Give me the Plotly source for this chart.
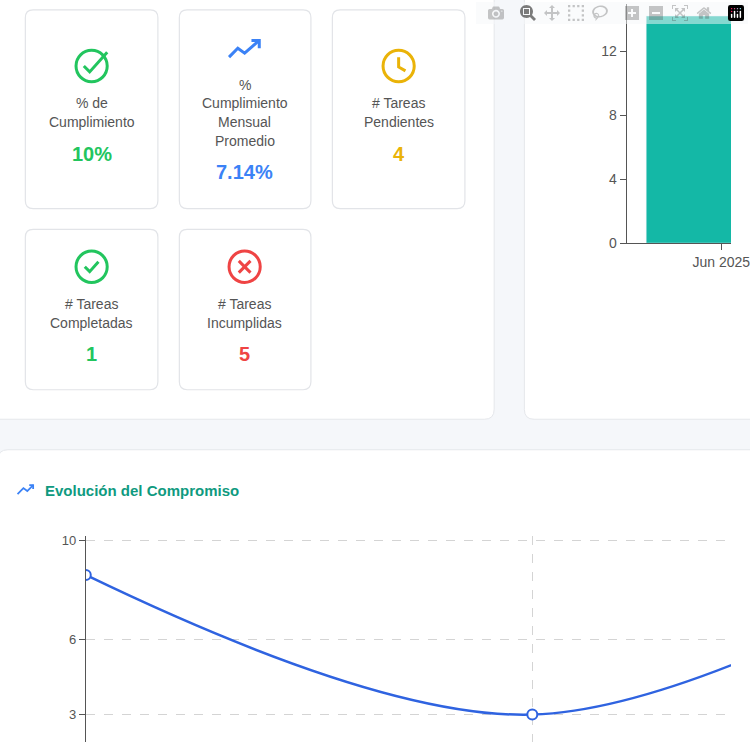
import plotly.graph_objects as go

bar_cats = ["Jun 2025"]
bar_vals = [14.2]
line_cats = ["Abr", "May", "Jun"]
line_vals = [8.6, 3.0, 9.8]
avg_val = 7.14

W = H = 750
def X(x): return x / W
def Y(y): return 1 - y / H

def rrect(x0, y0, x1, y1, r):
    a0, b0, a1, b1 = X(x0), Y(y1), X(x1), Y(y0)
    rx, ry = r / W, r / H
    return (f"M{a0+rx},{b0} L{a1-rx},{b0} Q{a1},{b0} {a1},{b0+ry} L{a1},{b1-ry} Q{a1},{b1} {a1-rx},{b1} "
            f"L{a0+rx},{b1} Q{a0},{b1} {a0},{b1-ry} L{a0},{b0+ry} Q{a0},{b0} {a0+rx},{b0} Z")

fig = go.Figure()
fig.add_trace(go.Bar(x=bar_cats, y=bar_vals, marker_color="#14b8a6", xaxis="x", yaxis="y", width=0.8))
fig.add_trace(go.Scatter(x=line_cats, y=line_vals, mode="lines+markers", xaxis="x2", yaxis="y2",
                         line=dict(color="#2f63e0", width=2.5, shape="spline"),
                         marker=dict(size=10, color="white", line=dict(color="#2f63e0", width=2))))
fig.add_trace(go.Scatter(x=[-1, 3], y=[avg_val, avg_val], mode="lines", xaxis="x2", yaxis="y2",
                         line=dict(color="#22c55e", width=1.2, dash="dot")))

shapes = []
P = dict(xref="paper", yref="paper")
shapes.append(dict(type="path", path=rrect(-20, -20, 507, 422, 10), fillcolor="white", line=dict(color="#e5e7eb", width=1), layer="below", **P))
shapes.append(dict(type="path", path=rrect(538, -20, 780, 422, 10), fillcolor="white", line=dict(color="#e5e7eb", width=1), layer="below", **P))
shapes.append(dict(type="path", path=rrect(-2, 453, 780, 780, 10), fillcolor="white", line=dict(color="#e5e7eb", width=1), layer="below", **P))
cards = [(26, 6, 162, 208), (184, 6, 319, 208), (341, 6, 477, 208), (26, 229, 162, 392), (184, 229, 319, 392)]
for c in cards:
    shapes.append(dict(type="path", path=rrect(*c, 8), fillcolor="white", line=dict(color="#e2e4e8", width=1.2), layer="below", **P))

def circ(cx, cy, r, col):
    shapes.append(dict(type="circle", x0=X(cx-r), x1=X(cx+r), y0=Y(cy+r), y1=Y(cy-r), line=dict(color=col, width=3), **P))
def poly(pts, col, w=3):
    p = "M" + " L".join(f"{X(a)},{Y(b)}" for a, b in pts)
    shapes.append(dict(type="path", path=p, line=dict(color=col, width=w), **P))

G, B, A, R = "#22c55e", "#3b82f6", "#eab308", "#ef4444"
circ(94, 63, 16, G); poly([(86, 63), (92, 69), (110, 49)], G)
poly([(235, 54), (244, 45), (251, 50), (266, 37)], B); poly([(258, 37), (266, 37), (266, 45)], B)
circ(409, 63, 16, A); poly([(409, 54), (409, 64), (416, 68)], A)
circ(94, 267, 16, G); poly([(87, 267), (92, 272), (101, 262)], G)
circ(251, 267, 16, R); poly([(245, 261), (257, 273)], R); poly([(257, 261), (245, 273)], R)
poly([(18, 498), (24, 492), (28, 495), (34, 489)], B, 1.8); poly([(30, 489), (34, 489), (34, 493)], B, 1.8)

ann = []
def t(x, y, s, col="#555", size=14, bold=False):
    ann.append(dict(x=X(x), y=Y(y), xref="paper", yref="paper", text=f"<b>{s}</b>" if bold else s, showarrow=False,
                    font=dict(color=col, size=size, family="Liberation Sans, Arial"), xanchor="center", yanchor="middle"))
t(94, 101, "% de"); t(94, 120, "Cumplimiento"); t(94, 152, "10%", G, 20, True)
t(251, 82, "%"); t(251, 101, "Cumplimiento"); t(251, 120, "Mensual"); t(251, 139, "Promedio"); t(251, 171, "7.14%", B, 20, True)
t(409, 101, "# Tareas"); t(409, 120, "Pendientes"); t(409, 152, "4", A, 20, True)
t(94, 305, "# Tareas"); t(94, 324, "Completadas"); t(94, 356, "1", G, 20, True)
t(251, 305, "# Tareas"); t(251, 324, "Incumplidas"); t(251, 356, "5", R, 20, True)
ann.append(dict(x=X(44), y=Y(494), xref="paper", yref="paper", text="<b>Evolución del Compromiso</b>", showarrow=False,
                font=dict(color="#0f9a80", size=15, family="Liberation Sans, Arial"), xanchor="left", yanchor="middle"))

fig.update_layout(
    width=W, height=H, margin=dict(l=0, r=0, t=0, b=0), paper_bgcolor="#f5f7fa", plot_bgcolor="rgba(0,0,0,0)",
    showlegend=False, shapes=shapes, annotations=ann, font=dict(family="Liberation Sans, Arial", color="#555", size=14),
    xaxis=dict(domain=[X(643), 1], range=[-0.504, 0.052], showline=True, linecolor="#555", ticks="outside", ticklen=6,
               tickcolor="#555", showgrid=False, anchor="y"),
    yaxis=dict(domain=[Y(243), 1], range=[0, 14.95], tickvals=[0, 4, 8, 12], showline=True, linecolor="#555",
               ticks="outside", ticklen=6, tickcolor="#555", showgrid=False, zeroline=False, anchor="x"),
    xaxis2=dict(domain=[X(88), 1], range=[0, 1.445], showline=False, showgrid=True, griddash="dash", gridcolor="#d4d4d4",
                showticklabels=False, anchor="y2", zeroline=False),
    yaxis2=dict(domain=[0, Y(541)], range=[1.9, 10.15], tickvals=[3, 6, 10], showline=True, linecolor="#555",
                ticks="outside", ticklen=6, tickcolor="#555", showgrid=True, griddash="dash", gridcolor="#d4d4d4",
                zeroline=False, anchor="x2", tickfont=dict(size=13)),
)
fig.write_html("out.html", post_script="document.body.style.margin='0';document.body.style.overflow='hidden';")
